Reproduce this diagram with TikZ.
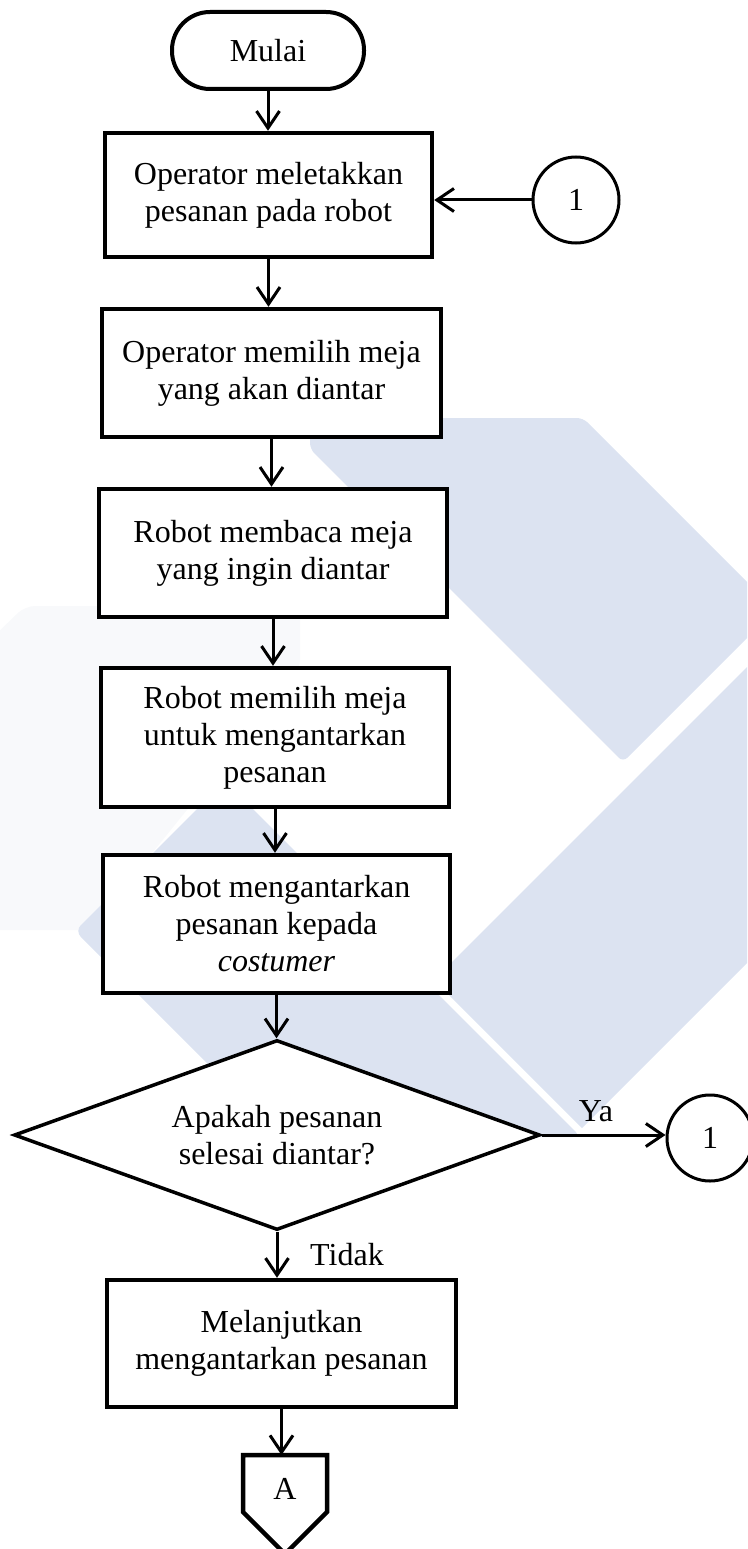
\documentclass[tikz,border=0pt]{standalone}
\usepackage{fontspec}
\setmainfont{Liberation Serif}
\usetikzlibrary{arrows.meta,shapes.geometric}
\definecolor{wm}{RGB}{220,227,241}
\definecolor{wmfaint}{RGB}{248,249,251}
\begin{document}
\begin{tikzpicture}[x=1pt,y=-1pt,
  every node/.style={font=\fontsize{32}{37}\selectfont},
  proc/.style={draw, line width=4.5pt, fill=white, align=center, inner sep=0pt},
  flow/.style={line width=3pt, -{Straight Barb[length=17pt,width=23pt]}},
  conn/.style={draw, circle, line width=3pt, fill=white, minimum size=86pt, inner sep=0pt},
  lbl/.style={inner sep=0pt}
]
\useasboundingbox (0,0) rectangle (747,1549);
% watermark
\begin{scope}
\clip (0,0) rectangle (747,1549);
\fill[wmfaint, rounded corners=10pt] (-10,640) -- (25,606) -- (300,606) -- (300,670) -- (90,930) -- (-10,930) -- cycle;
\fill[wm, rounded corners=6pt] (310,449) -- (310,418) -- (583,418) -- (775,610) -- (623,762) -- cycle;
\fill[wm] (434,980) -- (800,614) -- (800,910) -- (582,1128) -- cycle;
\fill[wm, rounded corners=8pt] (225,781) -- (75,931) -- (281,1137) -- (581,1137) -- cycle;
\end{scope}
% nodes
\node[proc, line width=4pt, rounded corners=38pt, minimum width=192pt, minimum height=77pt] (start) at (268,50.5) {Mulai};
\node[proc, minimum width=327pt, minimum height=124pt] (b1) at (268.5,195) {Operator meletakkan\\pesanan pada robot};
\node[conn] (c1) at (576,200) {1};
\node[proc, minimum width=339pt, minimum height=128pt] (b2) at (271.5,373) {Operator memilih meja\\yang akan diantar};
\node[proc, minimum width=348pt, minimum height=128pt] (b3) at (273,553) {Robot membaca meja\\yang ingin diantar};
\node[proc, minimum width=348pt, minimum height=139pt] (b4) at (275,737.5) {Robot memilih meja\\untuk mengantarkan\\pesanan};
\node[proc, minimum width=347pt, minimum height=138pt] (b5) at (276.5,924) {Robot mengantarkan\\pesanan kepada\\\textit{costumer}};
\node[draw, diamond, aspect=2.77, minimum width=526pt, minimum height=190pt, inner sep=0pt, line width=3.5pt, fill=white, align=center] (dec) at (277,1135) {Apakah pesanan\\selesai diantar?};
\node[conn] (c2) at (710,1138) {1};
\node[proc, minimum width=349pt, minimum height=127pt] (b6) at (281.5,1343.5) {Melanjutkan\\mengantarkan pesanan};
\draw[line width=4.5pt, fill=white] (243,1455) -- (327,1455) -- (327,1512) -- (285,1554) -- (243,1512) -- cycle;
\coordinate (Atop) at (285,1455);
\node (offA) at (285,1489) {A};
\node[lbl] (ya) at (596,1111) {Ya};
\node[lbl] (tidak) at (347,1255) {Tidak};
% connectors
\draw[flow] (start.south) -- (start.south |- b1.north);
\draw[flow] (c1.west) -- (c1.west -| b1.east);
\draw[flow] (b1.south) -- (b1.south |- b2.north);
\draw[flow] (b2.south) -- (b2.south |- b3.north);
\draw[flow] (b3.south) -- (b3.south |- b4.north);
\draw[flow] (b4.south) -- (b4.south |- b5.north);
\draw[flow] (b5.south) -- (b5.south |- dec.north);
\draw[flow] (dec.east) -- (dec.east -| c2.west);
\draw[flow] (dec.south) -- (dec.south |- b6.north);
\draw[flow] (b6.south) -- (b6.south |- Atop);
\end{tikzpicture}
\end{document}
